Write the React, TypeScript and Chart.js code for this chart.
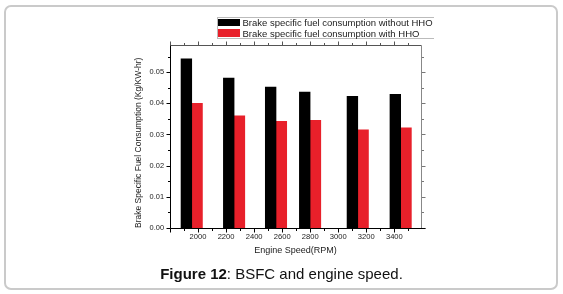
import React, { useEffect, useRef } from 'react';
import { Chart, registerables } from 'chart.js';

Chart.register(...registerables);

// ---- data ----
const SPEEDS = [1955, 2257, 2556, 2799, 3139, 3445];
const WITHOUT_HHO = [0.0543, 0.0481, 0.0452, 0.0436, 0.0422, 0.0429];
const WITH_HHO = [0.04, 0.036, 0.0342, 0.0345, 0.0315, 0.0321];
const SERIES_LABELS = [
  'Brake specific fuel consumption without HHO',
  'Brake specific fuel consumption with HHO',
];
const SERIES_COLORS = ['#000000', '#e8202a'];
const X_TICKS = [2000, 2200, 2400, 2600, 2800, 3000, 3200, 3400];
const Y_TICKS = [0, 0.01, 0.02, 0.03, 0.04, 0.05];
const X_MIN = 1800;
const X_MAX = 3590;
const Y_MIN = 0;
const Y_MAX = 0.0587;
const X_TITLE = 'Engine Speed(RPM)';
const Y_TITLE = 'Brake Specific Fuel Consumption (Kg/KW-hr)';
const CAPTION_BOLD = 'Figure 12';
const CAPTION_REST = ': BSFC and engine speed.';

const FONT = 'Liberation Sans, Arial, Helvetica, sans-serif';

const axesFrame = {
  id: 'axesFrame',
  afterDatasetsDraw(chart: any) {
    const { ctx, chartArea: a, scales } = chart;
    const xs = scales.x;
    const ys = scales.y;
    const L = Math.round(a.left) + 0.5;
    const R = Math.round(a.right) + 0.5;
    const T = Math.round(a.top) + 0.5;
    const B = Math.round(a.bottom) + 0.5;
    ctx.save();
    ctx.lineWidth = 1;
    const seg = (x1: number, y1: number, x2: number, y2: number, c: string) => {
      ctx.strokeStyle = c;
      ctx.beginPath();
      ctx.moveTo(x1, y1);
      ctx.lineTo(x2, y2);
      ctx.stroke();
    };
    for (let k = 0; X_MIN + k * 100 <= X_MAX; k++) {
      const v = X_MIN + k * 100;
      const px = Math.round(xs.getPixelForValue(v)) + 0.5;
      const major = v % 200 === 0;
      seg(px, B, px, B + (major ? 4 : 2.5), '#000');
      seg(px, T, px, T - (major ? 4 : 2.5), '#555');
    }
    for (let k = 0; k * 0.005 <= Y_MAX + 1e-9; k++) {
      const v = k * 0.005;
      const py = Math.round(ys.getPixelForValue(v)) + 0.5;
      const major = k % 2 === 0;
      seg(L - (major ? 4 : 2.5), py, L, py, '#000');
      seg(R, py, R + (major ? 4 : 2.5), py, '#777');
    }
    seg(L, T, R, T, '#555');
    seg(R, T, R, B, '#888');
    seg(L, T, L, B, '#000');
    seg(L, B, R + 4, B, '#000');
    ctx.restore();
  },
};

export default function App() {
  const ref = useRef<HTMLCanvasElement | null>(null);

  useEffect(() => {
    if (!ref.current) return;
    const chart = new Chart(ref.current, {
      type: 'bar',
      data: {
        datasets: [
          {
            label: SERIES_LABELS[0],
            data: SPEEDS.map((s, i) => ({ x: s, y: WITHOUT_HHO[i] })),
            backgroundColor: SERIES_COLORS[0],
            borderWidth: 0,
            barThickness: 10.7,
          },
          {
            label: SERIES_LABELS[1],
            data: SPEEDS.map((s, i) => ({ x: s, y: WITH_HHO[i] })),
            backgroundColor: SERIES_COLORS[1],
            borderWidth: 0,
            barThickness: 10.7,
          },
        ],
      },
      options: {
        responsive: false,
        animation: false,
        devicePixelRatio: 1,
        layout: { padding: { left: 134, right: 142, top: 45, bottom: 38 } },
        plugins: { legend: { display: false }, tooltip: { enabled: false }, title: { display: false } },
        scales: {
          x: {
            type: 'linear',
            min: X_MIN,
            max: X_MAX,
            offset: false,
            afterBuildTicks: (s: any) => {
              s.ticks = X_TICKS.map((v) => ({ value: v }));
            },
            afterFit: (s: any) => {
              s.height = 28;
            },
            grid: { display: false, drawTicks: false, offset: false },
            border: { display: false },
            ticks: {
              autoSkip: false,
              maxRotation: 0,
              padding: 4,
              color: '#222',
              font: { family: FONT, size: 7.6 },
              callback: (v: any) => String(v),
            },
            title: {
              display: true,
              text: X_TITLE,
              color: '#222',
              padding: 0,
              font: { family: FONT, size: 9 },
            },
          },
          y: {
            type: 'linear',
            min: Y_MIN,
            max: Y_MAX,
            afterBuildTicks: (s: any) => {
              s.ticks = Y_TICKS.map((v) => ({ value: v }));
            },
            afterFit: (s: any) => {
              s.width = 36;
            },
            grid: { display: false, drawTicks: false },
            border: { display: false },
            ticks: {
              padding: 6,
              color: '#222',
              font: { family: FONT, size: 7.4 },
              callback: (v: any) => Number(v).toFixed(2),
            },
            title: {
              display: true,
              text: Y_TITLE,
              align: 'start',
              color: '#222',
              padding: 0,
              font: { family: FONT, size: 8.5 },
            },
          },
        },
      } as any,
      plugins: [axesFrame],
    });
    return () => chart.destroy();
  }, []);

  return (
    <div style={{ position: 'fixed', left: 0, top: 0, width: 563, height: 294, background: '#fff', overflow: 'hidden' }}>
      <div
        style={{
          position: 'absolute',
          left: 4,
          top: 5,
          width: 554,
          height: 285,
          boxSizing: 'border-box',
          border: '2px solid #cacaca',
          borderRadius: 7,
        }}
      />
      <canvas ref={ref} width={563} height={294} style={{ position: 'absolute', left: 0, top: 0, width: 563, height: 294 }} />
      <div
        style={{
          position: 'absolute',
          left: 217,
          top: 17,
          width: 217,
          height: 22,
          boxSizing: 'border-box',
          borderTop: '1px solid #bbb',
          borderBottom: '1px solid #bbb',
          borderLeft: '1px solid #bbb',
        }}
      />
      {SERIES_LABELS.map((lab, i) => (
        <div
          key={lab}
          style={{
            position: 'absolute',
            left: 218,
            top: 18 + i * 10.5,
            height: 9,
            display: 'flex',
            alignItems: 'center',
            fontFamily: FONT,
            fontSize: 9.5,
            color: '#222',
            whiteSpace: 'nowrap',
          }}
        >
          <span style={{ display: 'inline-block', width: 21.5, height: 7.5, background: SERIES_COLORS[i], marginRight: 3 }} />
          <span>{lab}</span>
        </div>
      ))}
      <div
        style={{
          position: 'absolute',
          left: 0,
          top: 265,
          width: 563,
          textAlign: 'center',
          fontFamily: FONT,
          fontSize: 15,
          lineHeight: '18px',
          color: '#111',
          whiteSpace: 'nowrap',
        }}
      >
        <b>{CAPTION_BOLD}</b>
        {CAPTION_REST}
      </div>
    </div>
  );
}
